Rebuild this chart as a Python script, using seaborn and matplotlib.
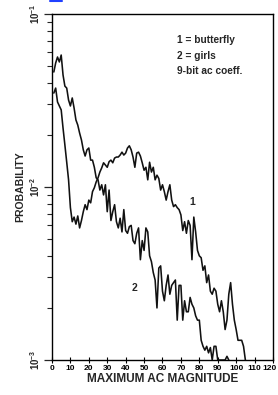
import numpy as np
import pandas as pd
import matplotlib
matplotlib.use("Agg")
import matplotlib.pyplot as plt
import matplotlib.transforms as mtransforms
from matplotlib.lines import Line2D
import seaborn as sns

# ---- data ----
butterfly_mag = list(range(1, 106))
butterfly_prob = [
    0.0349, 0.0373, 0.0310, 0.0294, 0.0279, 0.0219, 0.0175, 0.0139, 0.0110, 0.0076,
    0.0063, 0.0067, 0.0061, 0.0068, 0.0058, 0.0064, 0.0072, 0.0079, 0.0074, 0.0084,
    0.0081, 0.0094, 0.0099, 0.0107, 0.0113, 0.0122, 0.0129, 0.0138, 0.0134, 0.0130,
    0.0140, 0.0143, 0.0138, 0.0147, 0.0149, 0.0149, 0.0153, 0.0159, 0.0153, 0.0157,
    0.0168, 0.0173, 0.0164, 0.0149, 0.0130, 0.0157, 0.0159, 0.0151, 0.0138, 0.0125,
    0.0130, 0.0110, 0.0139, 0.0122, 0.0130, 0.0110, 0.0117, 0.0112, 0.0096, 0.0103,
    0.0094, 0.0084, 0.0094, 0.0103, 0.0084, 0.0077, 0.0079, 0.0076, 0.0074, 0.0069,
    0.0056, 0.0063, 0.0054, 0.0064, 0.0060, 0.0038, 0.0067, 0.0055, 0.0043, 0.0040,
    0.0039, 0.0033, 0.0035, 0.0028, 0.0031, 0.0025, 0.0024, 0.0026, 0.0025, 0.0021,
    0.0019, 0.0022, 0.0019, 0.0015, 0.0017, 0.0024, 0.0028, 0.0021, 0.0017, 0.0015,
    0.0013, 0.0013, 0.0013, 0.0012, 0.0010,
]

girls_mag = list(range(1, 97))
girls_prob = [
    0.0462, 0.0521, 0.0564, 0.0528, 0.0579, 0.0444, 0.0383, 0.0373, 0.0318, 0.0294,
    0.0327, 0.0286, 0.0244, 0.0228, 0.0205, 0.0187, 0.0164, 0.0151, 0.0164, 0.0168,
    0.0143, 0.0143, 0.0130, 0.0113, 0.0110, 0.0096, 0.0103, 0.0090, 0.0103, 0.0072,
    0.0096, 0.0064, 0.0072, 0.0079, 0.0063, 0.0058, 0.0066, 0.0055, 0.0074, 0.0056,
    0.0054, 0.0059, 0.0060, 0.0049, 0.0047, 0.0054, 0.0058, 0.0038, 0.0049, 0.0043,
    0.0058, 0.0055, 0.0040, 0.0037, 0.0032, 0.0029, 0.0020, 0.0034, 0.0035, 0.0025,
    0.0022, 0.0027, 0.0031, 0.0024, 0.0027, 0.0028, 0.0029, 0.0017, 0.0027, 0.0027,
    0.0017, 0.0022, 0.0019, 0.0019, 0.0023, 0.0021, 0.0020, 0.0018, 0.0017, 0.0017,
    0.0013, 0.0012, 0.00114, 0.0012, 0.0011, 0.00118, 0.0010, 0.0012, 0.0012, 0.0010,
    0.0010, 0.0010, 0.0010, 0.0010, 0.00105, 0.0010,
]

series_names = ["butterfly", "girls"]
curve_labels = ["1", "2"]
legend_lines = ["1 = butterfly", "2 = girls", "9-bit ac coeff."]
x_ticks = list(range(0, 121, 10))
y_ticks = [1e-3, 1e-2, 1e-1]
y_tick_labels = [r"$\mathbf{10^{-3}}$", r"$\mathbf{10^{-2}}$", r"$\mathbf{10^{-1}}$"]

df = pd.concat([
    pd.DataFrame({"mag": butterfly_mag, "prob": butterfly_prob, "image": series_names[0]}),
    pd.DataFrame({"mag": girls_mag, "prob": girls_prob, "image": series_names[1]}),
])

# ---- style ----
sns.set_style("ticks")
plt.rcParams["font.family"] = ["Liberation Sans", "DejaVu Sans"]
plt.rcParams["mathtext.fontset"] = "custom"
plt.rcParams["mathtext.rm"] = "Liberation Sans"
plt.rcParams["mathtext.bf"] = "Liberation Sans:bold"

fig = plt.figure(figsize=(2.78, 3.95), dpi=100)
ax = fig.add_axes([0.187, 0.0886, 0.795, 0.876])

sns.lineplot(data=df, x="mag", y="prob", hue="image",
             palette={series_names[0]: "#111111", series_names[1]: "#111111"},
             estimator=None, linewidth=1.15, legend=False, ax=ax)

ax.set_yscale("log")
ax.set_xlim(0, 120)
ax.set_ylim(1e-3, 1e-1)

ax.set_xticks(x_ticks)
ax.set_xticklabels([str(t) for t in x_ticks], fontsize=6, fontweight="bold")
ax.set_yticks(y_ticks)
ax.set_yticklabels(y_tick_labels, rotation=90, va="center", fontsize=7)
ax.yaxis.set_minor_locator(matplotlib.ticker.LogLocator(base=10, subs=np.arange(2, 10)))
ax.yaxis.set_minor_formatter(matplotlib.ticker.NullFormatter())

ax.tick_params(axis="x", direction="inout", length=4, width=0.8, pad=1.5, colors="black")
ax.tick_params(axis="y", which="major", direction="out", length=5.5, width=0.9, pad=1.5)
ax.tick_params(axis="y", which="minor", direction="out", length=3.5, width=0.8)

# keep the last x tick label inside the figure
last = ax.xaxis.get_major_ticks()[-1].label1
last.set_transform(last.get_transform() + mtransforms.ScaledTranslation(-3.5 / 100, 0, fig.dpi_scale_trans))

for s in ax.spines.values():
    s.set_visible(True)
    s.set_linewidth(1.0)
    s.set_color("black")

ax.set_xlabel("MAXIMUM AC MAGNITUDE", fontsize=8.5, fontweight="bold", labelpad=0.5)
ax.set_ylabel("PROBABILITY", fontsize=7.5, fontweight="bold", labelpad=2)

# legend-like annotation text
for i, t in enumerate(legend_lines):
    ax.text(0.567, 0.925 - i * 0.045, t, transform=ax.transAxes,
            fontsize=7.3, fontweight="bold", va="center", ha="left")

# curve numbers
ax.text(76, 0.0082, curve_labels[0], fontsize=7.5, fontweight="bold", ha="center", va="center")
ax.text(44.9, 0.0026, curve_labels[1], fontsize=7.5, fontweight="bold", ha="center", va="center")

# blue scan mark at top-left edge
fig.add_artist(Line2D([50 / 278, 62 / 278], [0.997, 0.997], color="#2040ff", lw=1.5))

fig.savefig("out.png", dpi=100)
